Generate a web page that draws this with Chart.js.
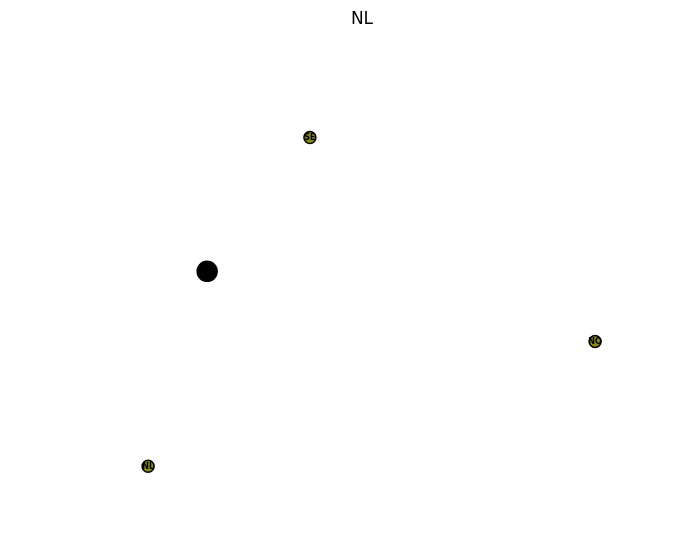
<!DOCTYPE html>
<html>
<head>
<meta charset="utf-8">
<script src="https://cdn.jsdelivr.net/npm/chart.js@4/dist/chart.umd.min.js"></script>
<style>
html,body{margin:0;padding:0;background:#fff;}
#wrap{width:694px;height:545px;}
</style>
</head>
<body>
<div id="wrap"><canvas id="c" width="694" height="545"></canvas></div>
<script>
const labels = ["SE", "DE", "NO", "NL"];
const xValues = [42.9, 27.15, 86.6, 18.1];
const yValues = [80.0, 52.95, 38.8, 13.6];
const sizes = [6, 10, 6, 6];
const fills = ["#8c8c14", "#000000", "#8c8c14", "#8c8c14"];

const points = labels.map((l, i) => ({x: xValues[i], y: yValues[i], r: sizes[i]}));

const labelPlugin = {
  id: 'pointLabels',
  afterDatasetsDraw(chart) {
    const ctx = chart.ctx;
    const meta = chart.getDatasetMeta(0);
    ctx.save();
    ctx.font = 'bold 8px "DejaVu Sans"';
    ctx.textAlign = 'center';
    ctx.textBaseline = 'middle';
    meta.data.forEach((el, i) => {
      ctx.fillStyle = '#000';
      ctx.fillText(labels[i], el.x, el.y + 0.5);
    });
    ctx.restore();
  }
};

new Chart(document.getElementById('c'), {
  type: 'bubble',
  data: {
    datasets: [{
      data: points,
      backgroundColor: fills,
      borderColor: '#000',
      borderWidth: 1.5
    }]
  },
  options: {
    responsive: false,
    animation: false,
    clip: false,
    layout: {padding: {left: 30, top: 0, right: 0, bottom: 0}},
    plugins: {
      legend: {display: false},
      tooltip: {enabled: false},
      title: {
        display: true,
        text: 'NL',
        color: '#000',
        font: {size: 17, weight: 'normal', family: '"DejaVu Sans"'},
        padding: {top: 9, bottom: 9}
      }
    },
    scales: {
      x: {display: false, min: 0, max: 100},
      y: {display: false, min: 0, max: 100}
    }
  },
  plugins: [labelPlugin]
});
</script>
</body>
</html>
